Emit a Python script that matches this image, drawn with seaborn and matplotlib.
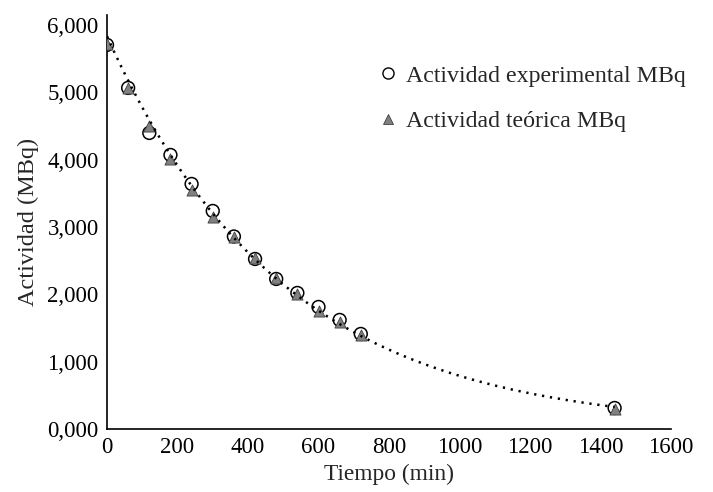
import numpy as np
import pandas as pd
import matplotlib
matplotlib.use("Agg")
import matplotlib.pyplot as plt
from matplotlib.lines import Line2D
import seaborn as sns

# --- data ---
tiempo = [0, 60, 120, 180, 240, 300, 360, 420, 480, 540, 600, 660, 720, 1440]
act_experimental = [5706, 5067, 4398, 4071, 3640, 3239, 2860, 2526, 2229, 2021, 1813, 1620, 1412, 312]
act_teorica = [5721, 5067, 4502, 4012, 3551, 3150, 2845, 2533, 2244, 2006, 1753, 1590, 1397, 297]
x_ticks = [0, 200, 400, 600, 800, 1000, 1200, 1400, 1600]
y_ticks = [0, 1000, 2000, 3000, 4000, 5000, 6000]
y_tick_labels = ["0,000", "1,000", "2,000", "3,000", "4,000", "5,000", "6,000"]
label_exp = "Actividad experimental MBq"
label_teo = "Actividad teórica MBq"

df = pd.DataFrame({"t": tiempo, "exp": act_experimental, "teo": act_teorica})

# exponential trendline fitted to the experimental series
b, ln_a = np.polyfit(df["t"], np.log(df["exp"]), 1)
t_fit = np.linspace(min(tiempo), max(tiempo), 300)
trend = pd.DataFrame({"t": t_fit, "y": np.exp(ln_a) * np.exp(b * t_fit)})

sns.set_style("white")
plt.rcParams["font.family"] = ["Liberation Serif", "DejaVu Serif"]
plt.rcParams["font.size"] = 16.5

fig = plt.figure(figsize=(7.13, 4.92), dpi=100)
ax = fig.add_axes([107 / 713, 1 - 429 / 492, (671 - 107) / 713, (429 - 15) / 492])

sns.scatterplot(data=df, x="t", y="exp", ax=ax, marker="o", s=85,
                facecolor="none", edgecolor="black", linewidth=1.1, zorder=2)
sns.scatterplot(data=df, x="t", y="teo", ax=ax, marker="^", s=64,
                color="#808080", edgecolor="#404040", linewidth=0.6, zorder=3)
sns.lineplot(data=trend, x="t", y="y", ax=ax, color="black",
             linewidth=1.8, linestyle=(0, (0.9, 2.3)), zorder=4)

ax.set_xlim(0, 1600)
ax.set_ylim(0, 6150)
ax.set_xticks(x_ticks)
ax.set_xticklabels([str(v) for v in x_ticks])
ax.set_yticks(y_ticks)
ax.set_yticklabels(y_tick_labels)
ax.tick_params(axis="both", length=0, labelsize=16.5, colors="black", pad=6)

for side in ["top", "right"]:
    ax.spines[side].set_visible(False)
for side in ["left", "bottom"]:
    ax.spines[side].set_color("black")
    ax.spines[side].set_linewidth(1.2)

ax.set_xlabel("Tiempo (min)", fontsize=16.8, labelpad=4)
ax.set_ylabel("Actividad (MBq)", fontsize=17.5, labelpad=6)

handles = [
    Line2D([], [], marker="o", linestyle="none", markersize=8,
           markerfacecolor="none", markeredgecolor="black", markeredgewidth=1.0),
    Line2D([], [], marker="^", linestyle="none", markersize=6.5,
           markerfacecolor="#808080", markeredgecolor="#404040", markeredgewidth=0.6),
]
ax.legend(handles, [label_exp, label_teo], loc="upper left",
          bbox_to_anchor=(380 / 713, 1 - 65 / 492), bbox_transform=fig.transFigure,
          frameon=False, fontsize=17.2, handlelength=0.7, handletextpad=0.4,
          labelspacing=1.0, borderpad=0, borderaxespad=0)

fig.savefig("out.png", dpi=100)
